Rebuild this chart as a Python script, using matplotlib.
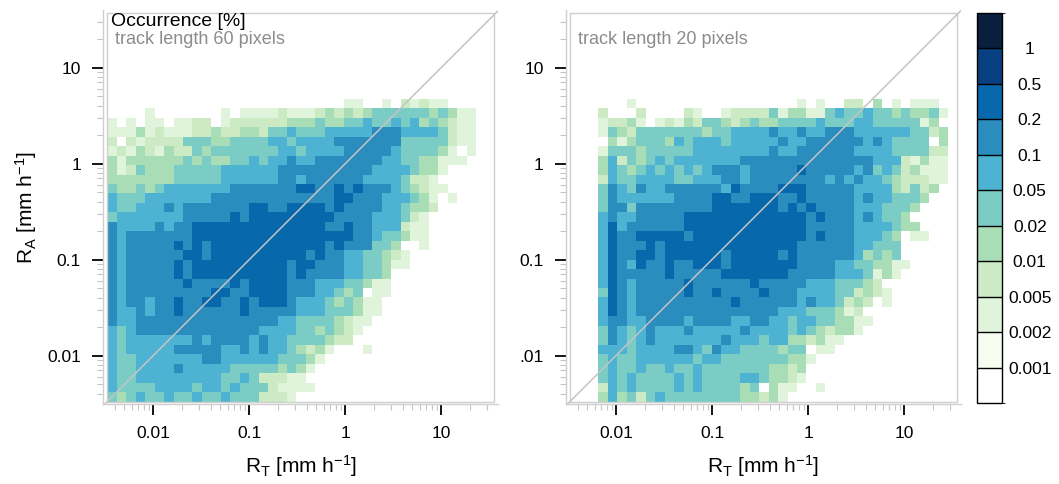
import matplotlib

matplotlib.use("Agg")

import matplotlib.pyplot as plt
import numpy as np
from matplotlib.cm import ScalarMappable
from matplotlib.colors import BoundaryNorm, ListedColormap
from matplotlib.patches import Rectangle
from matplotlib.ticker import FixedLocator, NullFormatter

plt.rcParams["font.family"] = ["Liberation Sans", "DejaVu Sans"]
plt.rcParams["mathtext.fontset"] = "custom"
plt.rcParams["mathtext.rm"] = "Liberation Sans"
plt.rcParams["mathtext.it"] = "Liberation Sans:italic"

# colour classes of occurrence [%]
LEVELS = [0.001, 0.002, 0.005, 0.01, 0.02, 0.05, 0.1, 0.2, 0.5, 1]
LEVEL_LABELS = ["0.001", "0.002", "0.005", "0.01", "0.02", "0.05", "0.1", "0.2", "0.5", "1"]
COLORS = ["#ffffff", "#f7fcf0", "#e0f3db", "#ccebc5", "#a8ddb5", "#7bccc4",
          "#4eb3d3", "#2b8cbe", "#0868ac", "#084081", "#08203e"]

# log10 bin grid of R_T (columns) and R_A (rows)
LOG_START = -2.479
LOG_STEP = 0.0985

# class index per cell (0 = empty, 1..10 = class above LEVELS[k-1]); rows from top
OCC_60_FIRST_COL = 0
OCC_60 = [
    "0000000000000000000" "00000022002032322000",
    "0000200000002022223" "22234343455555545422",
    "2020220223302333333" "44454455655656454322",
    "2224232223343344355" "65556666677766665322",
    "3032333355544555566" "56666777777755555322",
    "2324324335455555556" "65666677777655554202",
    "4244444454544556566" "76677777776655442220",
    "4235444555556666667" "77777777766665442000",
    "4444444555556666667" "76777777666653320000",
    "5445456666666777777" "78877878777654322000",
    "6555666666677777777" "77777887776665420200",
    "6556667677777778877" "88887877776654430000",
    "5666666677777878888" "88888777766653200000",
    "7666676778888888888" "88887787766632200000",
    "7677777778888888888" "88888887765542200000",
    "7677777878788888888" "88887877755400200000",
    "7677777788788888888" "88787766554320000000",
    "7677777878888888888" "78877766554220000000",
    "7677777878888888888" "78777766554000000000",
    "7677777787777878888" "77766655422000000000",
    "7677777777788778888" "77766545022000000000",
    "7677677877887787888" "76665454220000000000",
    "7667677877777787777" "76665554220000000000",
    "7667777777777777776" "65555432200000000000",
    "6567777777777777666" "65545432000000000000",
    "6566666667677776766" "55554330000000000000",
    "6566666777776676766" "54342000200000000000",
    "6556666666776666665" "55420000000000000000",
    "6556666766666555554" "54200000000000000000",
    "6556666666665565333" "22000000000000000000",
    "6555566665665655532" "22200000000000000000",
    "5456556556556555333" "20000000000000000000",
]

OCC_20_FIRST_COL = 3
OCC_20 = [
    "0002000000000000" "000002020033040202220",
    "3000300003200233" "335244225655655454452",
    "2334202324355434" "544555565556655555240",
    "2543555555545566" "667667667776666665534",
    "0424555465666566" "666766777777676555504",
    "2555455555666666" "667667777776666555533",
    "4635456566666667" "777777777777766632422",
    "4654565656567776" "777778777776756534222",
    "3655666655666776" "777777776767665433322",
    "5765766777777687" "777888777776666435340",
    "5766666677778877" "888778777776766555400",
    "5775777777778888" "888787877776665554000",
    "6766777778888888" "888888787776765540000",
    "6867777778888888" "888888777776666544000",
    "6877888887888888" "888888787776665402200",
    "6877787888888888" "888887777776655500000",
    "6877887888888788" "888787777776454500000",
    "6876877877888788" "888887777665544220000",
    "6877777877777888" "888877777666524200000",
    "6876777778777777" "877777666555430000000",
    "5876777778778777" "787776666553432000000",
    "6876777777777787" "777776766534302000000",
    "6876777777777777" "777666555423000000000",
    "6776677776777766" "776656655442200000000",
    "5765676667666667" "666656543442000000000",
    "5765676666666766" "656644342200000000000",
    "6665666677657665" "555455022000000000000",
    "5655666666566555" "555544200000000000000",
    "5655655655655555" "554434000000000000000",
    "5656555565655556" "654432000000000000000",
    "3656555565655554" "504220020000000000000",
    "4645356555555554" "434200000000000000000",
]

X_TICKS = [0.01, 0.1, 1, 10]
X_TICK_LABELS = ["0.01", "0.1", "1", "10"]
Y_TICKS = [0.01, 0.1, 1, 10]
Y_TICK_LABELS_60 = ["0.01", "0.1", "1", "10"]
Y_TICK_LABELS_20 = [".01", "0.1", "1", "10"]

BOUNDS = [1e-4] + LEVELS + [10.0]
W, H = 1059, 484


def _grid_values(rows):
    codes = np.array([[int(c) for c in r] for r in rows[::-1]])
    lo = np.array(BOUNDS)[codes]
    hi = np.array(BOUNDS)[np.minimum(codes + 1, len(BOUNDS) - 1)]
    vals = np.sqrt(lo * hi)
    return np.ma.masked_where(codes == 0, vals)


def _draw_panel(ax, rows, first_col, ylabels, cmap, norm):
    vals = _grid_values(rows)
    nrow, ncol = vals.shape
    xe = 10 ** (LOG_START + LOG_STEP * np.arange(first_col, first_col + ncol + 1))
    ye = 10 ** (LOG_START + LOG_STEP * np.arange(nrow + 1))
    ax.pcolormesh(xe, ye, vals, cmap=cmap, norm=norm, shading="flat",
                  edgecolors="none", antialiased=False, rasterized=True)

    ax.set_xscale("log")
    ax.set_yscale("log")
    xlo, xhi = 10 ** -2.521, 10 ** 1.590
    ylo, yhi = 10 ** -2.505, 10 ** 1.599
    ax.set_xlim(xlo, xhi)
    ax.set_ylim(ylo, yhi)

    ax.add_patch(Rectangle((10 ** -2.479, 10 ** -2.481),
                           10 ** 1.552 - 10 ** -2.479, 10 ** 1.565 - 10 ** -2.481,
                           fill=False, edgecolor="#cfcfcf", linewidth=1.0, zorder=3))
    ax.plot([ylo, xhi], [ylo, xhi], color="#c4c4c4", linewidth=1.1, zorder=4)

    for side in ("top", "right"):
        ax.spines[side].set_visible(False)
    for side in ("left", "bottom"):
        ax.spines[side].set_color("#cfcfcf")
        ax.spines[side].set_linewidth(1.0)

    minor = [m * 10.0 ** e for e in range(-3, 2) for m in range(2, 10)]
    ax.set_xticks(X_TICKS)
    ax.set_xticklabels(X_TICK_LABELS)
    ax.set_yticks(Y_TICKS)
    ax.set_yticklabels(ylabels)
    ax.xaxis.set_minor_locator(FixedLocator(minor))
    ax.yaxis.set_minor_locator(FixedLocator(minor))
    ax.xaxis.set_minor_formatter(NullFormatter())
    ax.yaxis.set_minor_formatter(NullFormatter())
    ax.tick_params(which="major", direction="out", length=8, width=1.3,
                   color="black", labelsize=12.5, pad=8)
    ax.tick_params(which="minor", direction="out", length=4.5, width=0.8,
                   color="#c4c4c4")


fig = plt.figure(figsize=(W / 100, H / 100), dpi=100)
cmap = ListedColormap(COLORS)
cmap.set_bad("white")
norm = BoundaryNorm(BOUNDS, cmap.N)

ax1 = fig.add_axes([103.3 / W, 1 - 404 / H, 394.7 / W, 394 / H])
ax2 = fig.add_axes([566.0 / W, 1 - 404 / H, 394.7 / W, 394 / H])
_draw_panel(ax1, OCC_60, OCC_60_FIRST_COL, Y_TICK_LABELS_60, cmap, norm)
_draw_panel(ax2, OCC_20, OCC_20_FIRST_COL, Y_TICK_LABELS_20, cmap, norm)

fig.text(111 / W, 1 - 26.5 / H, "Occurrence [%]", fontsize=14, va="baseline", ha="left")
fig.text(115 / W, 1 - 43.5 / H, "track length 60 pixels", fontsize=13,
         color="#8c8c8c", va="baseline", ha="left")
fig.text(578 / W, 1 - 43.5 / H, "track length 20 pixels", fontsize=13,
         color="#8c8c8c", va="baseline", ha="left")

xlabel = r"R$_\mathrm{T}$ [mm h$^\mathrm{-1}$]"
ylabel = r"R$_\mathrm{A}$ [mm h$^\mathrm{-1}$]"
fig.text(300.6 / W, 1 - 473 / H, xlabel, fontsize=15, ha="center", va="baseline")
fig.text(763.4 / W, 1 - 473 / H, xlabel, fontsize=15, ha="center", va="baseline")
fig.text(26 / W, 1 - 207 / H, ylabel, fontsize=15, ha="center", va="center",
         rotation=90)

cax = fig.add_axes([977 / W, 1 - 403 / H, 25 / W, 390 / H])
cb = fig.colorbar(ScalarMappable(norm=norm, cmap=cmap), cax=cax, boundaries=BOUNDS,
                  ticks=LEVELS, spacing="uniform", drawedges=True)
cb.outline.set_edgecolor("black")
cb.outline.set_linewidth(1.0)
cb.dividers.set_color("black")
cb.dividers.set_linewidth(1.0)
cax.set_yticklabels(LEVEL_LABELS)
cax.tick_params(length=0, pad=20, labelsize=12.5)
for t in cax.get_yticklabels():
    t.set_horizontalalignment("center")

fig.savefig("out.png", dpi=100)
